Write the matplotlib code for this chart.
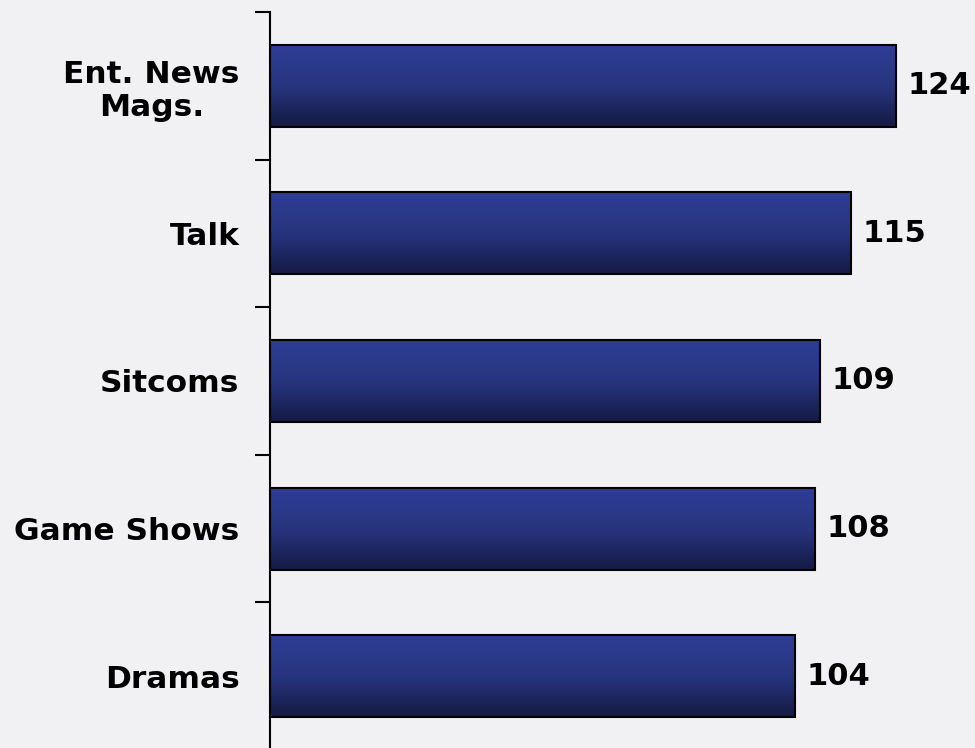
import numpy as np
import matplotlib.pyplot as plt
from matplotlib.colors import LinearSegmentedColormap

plt.rcParams["font.family"] = ["DejaVu Sans"]

# data
categories = ["Ent. News\nMags.", "Talk", "Sitcoms", "Game Shows", "Dramas"]
values = [124, 115, 109, 108, 104]

fig = plt.figure(figsize=(9.75, 7.48), dpi=100)
fig.patch.set_facecolor("#f1f0f3")

ax = fig.add_axes([270 / 975, -2 / 748, 705 / 975, 738 / 748])
ax.set_facecolor("none")

y = np.arange(len(categories))
bars = ax.barh(y, values, height=0.556, color="#25327a", edgecolor="black", linewidth=1.5, zorder=2)

# vertical gradient inside each bar (light on top, dark at bottom)
cmap = LinearSegmentedColormap.from_list("navy", ["#2f3e96", "#27357f", "#151a44"])
grad = np.linspace(0, 1, 256).reshape(-1, 1)
for b in bars:
    x0, y0 = b.get_x(), b.get_y()
    w, h = b.get_width(), b.get_height()
    # y axis is inverted, so y0 is the top edge on screen
    im = ax.imshow(grad, cmap=cmap, aspect="auto", extent=[x0, x0 + w, y0, y0 + h],
                   origin="lower", zorder=2.5)
    im.set_clip_path(b)
    b.set_facecolor("none")
    b.set_zorder(3)

for yi, v in zip(y, values):
    ax.text(v + 2.3, yi, str(v), va="center", ha="left", fontsize=22, fontweight="bold")

ax.set_xlim(0, 139.66)
ax.set_ylim(len(categories) - 0.5, -0.5)
ax.set_yticks(y)
ax.set_yticklabels(categories, fontsize=22.5, fontweight="bold")
for lab in ax.get_yticklabels():
    lab.set_multialignment("center")
ax.tick_params(axis="y", length=0, pad=22)
ax.set_yticks(np.arange(-0.5, len(categories) + 0.5, 1), minor=True)
ax.tick_params(axis="y", which="minor", length=11, width=1.5, direction="out")
ax.set_xticks([])
for s in ["top", "right", "bottom"]:
    ax.spines[s].set_visible(False)
ax.spines["left"].set_linewidth(1.5)

fig.savefig("out.png", dpi=100, facecolor=fig.get_facecolor())
